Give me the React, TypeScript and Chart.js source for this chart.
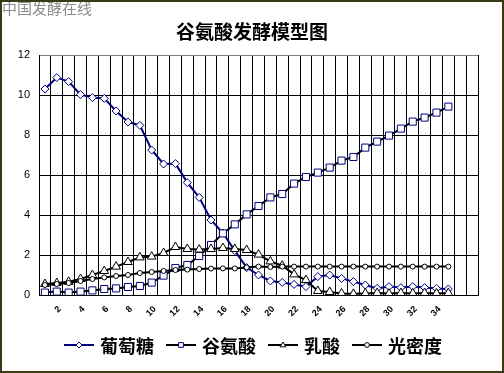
import React, { useEffect, useRef } from 'react';
import { Chart, registerables } from 'chart.js';

Chart.register(...registerables);

const categories = ['1','2','3','4','5','6','7','8','9','10','11','12','13','14','15','16','17','18','19','20','21','22','23','24','25','26','27','28','29','30','31','32','33','34','35','36','37'];
const shownTickLabels = ['2','4','6','8','10','12','14','16','18','20','22','24','26','28','30','32','34'];
const yTicks = [0, 2, 4, 6, 8, 10, 12];

const seriesNames = ['葡萄糖', '谷氨酸', '乳酸', '光密度'];

const glucose = [10.3,10.87,10.67,10.02,9.87,9.83,9.2,8.65,8.48,7.25,6.55,6.57,5.62,4.88,3.75,3.1,2.22,1.37,1.0,0.7,0.63,0.53,0.42,0.92,1.0,0.83,0.67,0.5,0.33,0.42,0.37,0.42,0.37,0.33,0.3];
const glutamate = [0.12,0.17,0.12,0.17,0.23,0.3,0.33,0.4,0.45,0.62,0.97,1.35,1.5,1.95,2.5,3.08,3.53,4.03,4.45,4.88,5.05,5.57,5.9,6.12,6.37,6.72,6.9,7.37,7.67,7.97,8.32,8.67,8.87,9.12,9.42];
const lactic = [0.55,0.6,0.66,0.8,1.0,1.2,1.42,1.65,1.88,1.92,2.1,2.4,2.3,2.27,2.3,2.35,2.3,2.25,2.02,1.68,1.47,1.03,0.75,0.2,0.15,0.08,0.06,0.08,0.1,0.07,0.1,0.08,0.1,0.08,0.1];
const density = [0.5,0.55,0.6,0.7,0.8,0.88,0.95,1.0,1.1,1.15,1.2,1.25,1.27,1.3,1.32,1.33,1.33,1.38,1.42,1.4,1.42,1.42,1.42,1.42,1.42,1.42,1.42,1.42,1.42,1.42,1.42,1.42,1.42,1.42,1.42];

const CJK = '"Noto Sans CJK SC", "Noto Sans", sans-serif';

function drawMarker(ctx: CanvasRenderingContext2D, style: string, x: number, y: number, r: number, stroke: string) {
  ctx.beginPath();
  if (style === 'rectRot') {
    ctx.moveTo(x - r, y); ctx.lineTo(x, y - r); ctx.lineTo(x + r, y); ctx.lineTo(x, y + r); ctx.closePath();
  } else if (style === 'rect') {
    ctx.rect(x - r * 0.8, y - r * 0.8, r * 1.6, r * 1.6);
  } else if (style === 'triangle') {
    ctx.moveTo(x, y - r); ctx.lineTo(x + r, y + r * 0.6); ctx.lineTo(x - r, y + r * 0.6); ctx.closePath();
  } else {
    ctx.arc(x, y, r * 0.8, 0, Math.PI * 2);
  }
  ctx.fillStyle = '#fff';
  ctx.fill();
  ctx.strokeStyle = stroke;
  ctx.lineWidth = 1;
  ctx.stroke();
}

const legendPlugin = {
  id: 'bottomLegend',
  afterDraw(chart: any) {
    const ctx: CanvasRenderingContext2D = chart.ctx;
    ctx.save();
    ctx.font = `bold 18px ${CJK}`;
    ctx.textBaseline = 'middle';
    const sampleW = 30, gapText = 6, gapItem = 12;
    const widths = seriesNames.map((n) => ctx.measureText(n).width);
    const total = widths.reduce((a, w) => a + sampleW + gapText + w, 0) + gapItem * (seriesNames.length - 1);
    let x = 253 - total / 2;
    const y = 345;
    chart.data.datasets.forEach((ds: any, i: number) => {
      ctx.strokeStyle = ds.borderColor;
      ctx.lineWidth = 2;
      ctx.beginPath();
      ctx.moveTo(x, y);
      ctx.lineTo(x + sampleW, y);
      ctx.stroke();
      drawMarker(ctx, ds.pointStyle, x + sampleW / 2, y, 3, ds.pointBorderColor);
      ctx.fillStyle = '#000';
      ctx.textAlign = 'left';
      ctx.fillText(seriesNames[i], x + sampleW + gapText, y + 1);
      x += sampleW + gapText + widths[i] + gapItem;
    });
    ctx.restore();
  },
};

export default function App() {
  const canvasRef = useRef<HTMLCanvasElement | null>(null);

  useEffect(() => {
    if (!canvasRef.current) return;
    const chart = new Chart(canvasRef.current, {
      type: 'line',
      data: {
        labels: categories,
        datasets: [
          {
            label: seriesNames[0], data: glucose, borderColor: '#000080', borderWidth: 2,
            pointStyle: 'rectRot', pointRadius: 4, pointBackgroundColor: '#fff', pointBorderColor: '#000080',
            pointBorderWidth: 1, tension: 0, order: 4,
          },
          {
            label: seriesNames[1], data: glutamate, borderColor: '#000', borderWidth: 2,
            pointStyle: 'rect', pointRadius: 5, pointBackgroundColor: '#fff', pointBorderColor: '#000080',
            pointBorderWidth: 1, tension: 0, order: 3,
          },
          {
            label: seriesNames[2], data: lactic, borderColor: '#000', borderWidth: 2,
            pointStyle: 'triangle', pointRadius: 5, pointBackgroundColor: '#fff', pointBorderColor: '#000',
            pointBorderWidth: 1, tension: 0, order: 2,
          },
          {
            label: seriesNames[3], data: density, borderColor: '#000', borderWidth: 2,
            pointStyle: 'circle', pointRadius: 2.5, pointBackgroundColor: '#fff', pointBorderColor: '#000',
            pointBorderWidth: 1, tension: 0, order: 1,
          },
        ],
      },
      options: {
        responsive: false,
        animation: false,
        layout: { padding: { left: 0, right: 26, top: 55, bottom: 38 } },
        plugins: {
          legend: { display: false },
          tooltip: { enabled: false },
          title: { display: false },
        },
        scales: {
          x: {
            type: 'category',
            offset: true,
            grid: { offset: true, color: '#000', lineWidth: 1, drawTicks: false },
            border: { color: '#000', width: 1 },
            afterFit: (s: any) => { s.height = 40; },
            ticks: {
              autoSkip: false,
              maxRotation: 45,
              minRotation: 45,
              padding: 9,
              labelOffset: 3,
              color: '#000',
              font: { size: 9, weight: 'bold', family: '"Liberation Sans", Arial, sans-serif' },
              callback: (_v: any, i: number) => (shownTickLabels.includes(categories[i]) ? categories[i] : ''),
            },
          },
          y: {
            min: 0,
            max: 12,
            afterFit: (s: any) => { s.width = 39; },
            afterBuildTicks: (s: any) => { s.ticks = yTicks.map((v) => ({ value: v })); },
            grid: {
              color: (c: any) => (c.tick && c.tick.value === 12 ? '#808080' : '#000'),
              lineWidth: 1,
              drawTicks: false,
            },
            border: { color: '#000', width: 1 },
            ticks: {
              padding: 9,
              color: '#000',
              font: { size: 11, family: '"Liberation Sans", Arial, sans-serif' },
            },
          },
        },
      },
      plugins: [legendPlugin],
    } as any);
    return () => chart.destroy();
  }, []);

  return (
    <div style={{ position: 'absolute', left: 0, top: 0, width: 504, height: 373, background: '#fff' }}>
      <canvas ref={canvasRef} width={504} height={373} style={{ position: 'absolute', left: 0, top: 0, width: 504, height: 373 }} />
      <div style={{ position: 'absolute', left: 2, top: -1, fontSize: 15, color: '#8c8c8c', fontFamily: CJK, lineHeight: '18px', whiteSpace: 'nowrap' }}>
        中国发酵在线
      </div>
      <div style={{ position: 'absolute', left: 0, width: 504, top: 19, textAlign: 'center', fontSize: 19, fontWeight: 'bold', color: '#000', fontFamily: CJK, lineHeight: '24px', whiteSpace: 'nowrap' }}>
        谷氨酸发酵模型图
      </div>
      <div style={{ position: 'absolute', left: 0, top: 0, width: 504, height: 373, boxSizing: 'border-box', border: '2px solid #3a3a14', pointerEvents: 'none' }} />
    </div>
  );
}
